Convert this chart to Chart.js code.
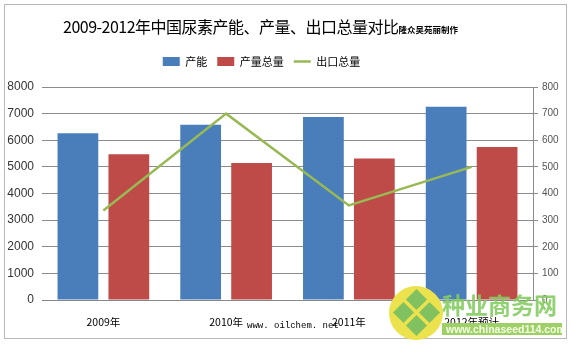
<!DOCTYPE html>
<html>
<head>
<meta charset="utf-8">
<script src="https://cdn.jsdelivr.net/npm/chart.js@4"></script>
<style>
  html, body { margin: 0; padding: 0; background: #fff; }
  #wrap { position: relative; width: 571px; height: 344px; overflow: hidden; }
  #frame { position: absolute; left: 4px; top: 4px; width: 561px; height: 333px; border: 1px solid #b8b8b8; }
  #chart { position: absolute; left: 0; top: 0; }
  #title { position: absolute; left: 63px; top: 14px; white-space: nowrap;
           font-family: "Noto Sans CJK SC", sans-serif; color: #000; }
  #title .main { font-size: 16px; letter-spacing: -0.5px; }
  #title .sub { font-size: 8.5px; font-weight: bold; }
  #oil { position: absolute; left: 247px; top: 321px; font-family: "Liberation Mono", monospace; font-size: 9px; color: #000; }
  #logo { position: absolute; left: 389px; top: 286px; width: 54px; height: 54px; border-radius: 50%; background: #ece24e; }
  #logo .d { position: absolute; width: 15px; height: 15px; background: #82c160; transform: rotate(45deg); }
  #seed { position: absolute; left: 442px; top: 287px; font-family: "Noto Sans CJK SC", sans-serif; font-weight: bold; font-size: 23px; color: #86cc62; opacity: 0.9; }
  #seedurl { position: absolute; left: 442px; top: 323px; width: 116px; height: 12px; background: #9fd065; color: #f4ffe8;
             font-family: "Liberation Sans", sans-serif; font-weight: bold; font-size: 10.5px; line-height: 12px; padding-left: 4px; }
</style>
</head>
<body>
<div id="wrap">
  <canvas id="chart" width="571" height="344"></canvas>
  <div id="frame"></div>
  <div id="title"><span class="main">2009-2012年中国尿素产能、产量、出口总量对比</span><span class="sub">隆众吴苑丽制作</span></div>
  <div id="oil">www. oilchem. net</div>
  <div id="logo">
    <div class="d" style="left:20px;top:6px"></div>
    <div class="d" style="left:7px;top:19px"></div>
    <div class="d" style="left:33px;top:19px"></div>
    <div class="d" style="left:20px;top:32px"></div>
  </div>
  <div id="seed">种业商务网</div>
  <div id="seedurl">www.chinaseed114.com</div>
</div>
<script>
// 数据（万吨）
const years = ['2009年', '2010年', '2011年', '2012年预计'];
const capacity = [6260, 6580, 6870, 7260];     // 产能
const output = [5470, 5150, 5310, 5750];       // 产量总量
const exportTotal = [336, 700, 355, 500];      // 出口总量（右轴）
const leftTicks = [0, 1000, 2000, 3000, 4000, 5000, 6000, 7000, 8000];
const rightTicks = [0, 100, 200, 300, 400, 500, 600, 700, 800];

const PLOT = { left: 42, right: 533, top: 86, bottom: 300 };

// 图例下方留出额外空白，让绘图区从 y=86 开始；图例整体稍向左
const legendGap = {
    id: 'legendGap',
    beforeInit: function(chart) {
        const fit = chart.legend.fit;
        chart.legend.fit = function() {
            fit.bind(chart.legend)();
            this.height += 10;
        };
    },
    afterLayout: function(chart) {
        chart.legend.left -= 24;
        chart.legend.right -= 24;
    }
};

document.addEventListener('DOMContentLoaded', function() {
    const ctx = document.getElementById('chart').getContext('2d');
    new Chart(ctx, {
        data: {
            labels: years,
            datasets: [
                {
                    type: 'bar', label: '产能', data: capacity, yAxisID: 'y',
                    backgroundColor: '#4a7ebb', borderWidth: 0,
                    pointStyle: 'rect', order: 2
                },
                {
                    type: 'bar', label: '产量总量', data: output, yAxisID: 'y',
                    backgroundColor: '#be4b48', borderWidth: 0,
                    pointStyle: 'rect', order: 2
                },
                {
                    type: 'line', label: '出口总量', data: exportTotal, yAxisID: 'y1',
                    borderColor: '#98b954', backgroundColor: '#98b954', borderWidth: 2.5,
                    pointRadius: 0, pointStyle: 'line', tension: 0, order: 1
                }
            ]
        },
        plugins: [legendGap],
        options: {
            responsive: false,
            animation: false,
            layout: { padding: { top: 46, left: 4, right: 4, bottom: 4 } },
            datasets: { bar: { categoryPercentage: 0.83, barPercentage: 0.8 } },
            plugins: {
                legend: {
                    position: 'top',
                    labels: {
                        usePointStyle: true, pointStyleWidth: 17, boxHeight: 9,
                        padding: 10, color: '#000',
                        font: { family: '"Noto Sans CJK SC", sans-serif', size: 11 },
                        sort: function(a, b) { return a.datasetIndex - b.datasetIndex; }
                    }
                },
                tooltip: { enabled: false }
            },
            scales: {
                x: {
                    grid: { display: false },
                    border: { display: true, color: '#888' },
                    ticks: { color: '#000', padding: 8, font: { family: '"Noto Sans CJK SC", sans-serif', size: 10.5 } },
                    afterFit: function(s) { s.height = 344 - PLOT.bottom - 4; }
                },
                y: {
                    position: 'left', min: 0, max: 8000,
                    afterBuildTicks: function(s) { s.ticks = leftTicks.map(v => ({ value: v })); },
                    grid: { color: '#8c8c8c', drawTicks: false },
                    border: { display: false },
                    ticks: {
                        color: '#333', padding: 8,
                        font: { family: '"Liberation Sans", Arial, sans-serif', size: 12 },
                        callback: function(v) { return String(v); }
                    },
                    afterFit: function(s) { s.width = PLOT.left - 4; }
                },
                y1: {
                    position: 'right', min: 0, max: 800,
                    afterBuildTicks: function(s) { s.ticks = rightTicks.map(v => ({ value: v })); },
                    grid: { drawOnChartArea: false, color: '#8c8c8c', tickLength: 5 },
                    border: { display: true, color: '#8c8c8c' },
                    ticks: {
                        color: '#555', padding: 4,
                        font: { family: '"Liberation Sans", Arial, sans-serif', size: 10 },
                        callback: function(v) { return String(v); }
                    },
                    afterFit: function(s) { s.width = 571 - PLOT.right - 4; }
                }
            }
        }
    });
});
</script>
</body>
</html>
